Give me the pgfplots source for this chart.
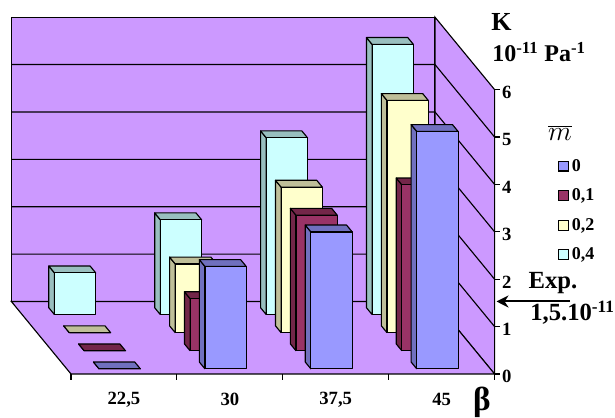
\documentclass[border=0pt]{standalone}
\usepackage{pgfplots}
\pgfplotsset{compat=1.18}
\usetikzlibrary{arrows.meta}
\usepackage{fontspec}
\setmainfont{Liberation Serif}

\definecolor{wall}{HTML}{CC99FF}
\definecolor{cA}{HTML}{9999FF}
\definecolor{cAd}{HTML}{7070BF}
\definecolor{cB}{HTML}{993366}
\definecolor{cBd}{HTML}{732649}
\definecolor{cC}{HTML}{FFFFCC}
\definecolor{cCd}{HTML}{BFBF99}
\definecolor{cD}{HTML}{CCFFFF}
\definecolor{cDd}{HTML}{99BFBF}

% one bar: category, series slot, value, face colour, shaded colour
\newcommand{\onebar}[5]{%
  \pgfmathsetmacro\xa{#1+0.305}%
  \pgfmathsetmacro\xb{#1+0.695}%
  \pgfmathsetmacro\ya{#2+0.28}%
  \pgfmathsetmacro\yb{#2+0.66}%
  \edef\temp{%
    \noexpand\addplot3[fill=#5,draw=black,line width=0.85pt,line join=round,forget plot] coordinates
      {(\xa,\ya,0) (\xa,\yb,0) (\xa,\yb,#3) (\xa,\ya,#3) (\xa,\ya,0)};
    \noexpand\addplot3[fill=#5,draw=black,line width=0.85pt,line join=round,forget plot] coordinates
      {(\xa,\ya,#3) (\xa,\yb,#3) (\xb,\yb,#3) (\xb,\ya,#3) (\xa,\ya,#3)};
    \noexpand\addplot3[fill=#4,draw=black,line width=0.85pt,line join=round,forget plot] coordinates
      {(\xa,\ya,0) (\xa,\ya,#3) (\xb,\ya,#3) (\xb,\ya,0) (\xa,\ya,0)};
  }\temp
}

\begin{document}
\begin{tikzpicture}
\begin{scope}[shift={(-53.25pt,280.5pt)},x=0.75pt,y=-0.75pt]
\useasboundingbox (0,0) rectangle (615,417);
\end{scope}

\begin{axis}[
  at={(0pt,0pt)},
  anchor=origin,
  x={(79.42pt,0pt)},
  y={(-11.17pt,13.58pt)},
  z={(0pt,35.55pt)},
  xmin=0,xmax=4,ymin=0,ymax=4,zmin=0,zmax=6,
  axis lines=none,
  clip=false,
  legend cell align=left,
  legend style={at={(axis cs:4,0,3)},anchor=west,xshift=47.5pt,yshift=16pt,draw=none,fill=none,
    font=\bfseries\fontsize{13.5}{14}\selectfont,inner sep=0pt,
    row sep=7.7pt,
    /tikz/every even column/.append style={column sep=0pt}},
  legend image code/.code={\draw[#1,line width=0.85pt] (0pt,-3.7pt) rectangle (7.5pt,3.7pt);},
]

% walls and floor
\addplot3[fill=wall,draw=black,line width=0.85pt,forget plot] coordinates {(0,4,0) (4,4,0) (4,4,6) (0,4,6) (0,4,0)};
\addplot3[fill=wall,draw=black,line width=0.85pt,forget plot] coordinates {(4,0,0) (4,4,0) (4,4,6) (4,0,6) (4,0,0)};
\addplot3[fill=wall,draw=black,line width=0.85pt,forget plot] coordinates {(0,0,0) (4,0,0) (4,4,0) (0,4,0) (0,0,0)};

% grid on the walls
\pgfplotsinvokeforeach{1,...,5}{
  \addplot3[black,line width=0.85pt,forget plot] coordinates {(0,4,#1) (4,4,#1) (4,0,#1)};
}

% back row to front row
\onebar{0}{3}{0.88}{cD}{cDd}
\onebar{1}{3}{2.00}{cD}{cDd}
\onebar{2}{3}{3.73}{cD}{cDd}
\onebar{3}{3}{5.70}{cD}{cDd}

\onebar{0}{2}{0}{cC}{cCd}
\onebar{1}{2}{1.45}{cC}{cCd}
\onebar{2}{2}{3.07}{cC}{cCd}
\onebar{3}{2}{4.90}{cC}{cCd}

\onebar{0}{1}{0}{cB}{cBd}
\onebar{1}{1}{1.10}{cB}{cBd}
\onebar{2}{1}{2.86}{cB}{cBd}
\onebar{3}{1}{3.50}{cB}{cBd}

\onebar{0}{0}{0}{cA}{cAd}
\onebar{1}{0}{2.16}{cA}{cAd}
\onebar{2}{0}{2.89}{cA}{cAd}
\onebar{3}{0}{5.01}{cA}{cAd}

% x ticks and labels
\pgfplotsinvokeforeach{0,...,4}{
  \draw[black,line width=0.85pt] (axis cs:#1,0,0) -- ++(0pt,-4.5pt);
}
\node[font=\bfseries\fontsize{14}{15}\selectfont] at (axis cs:0.5,0,0) [yshift=-19pt] {22,5};
\node[font=\bfseries\fontsize{14}{15}\selectfont] at (axis cs:1.5,0,0) [yshift=-19pt] {30};
\node[font=\bfseries\fontsize{14}{15}\selectfont] at (axis cs:2.5,0,0) [yshift=-19pt] {37,5};
\node[font=\bfseries\fontsize{14}{15}\selectfont] at (axis cs:3.5,0,0) [yshift=-19pt] {45};

% z ticks and labels
\pgfplotsinvokeforeach{0,...,6}{
  \draw[black,line width=0.85pt] (axis cs:4,0,#1) -- ++(4pt,0pt);
  \node[font=\bfseries\fontsize{14}{15}\selectfont,anchor=west,inner sep=0pt] at (axis cs:4,0,#1) [xshift=5.5pt,yshift=-2pt] {#1};
}

\addlegendimage{fill=cA,draw=black}
\addlegendentry{0}
\addlegendimage{fill=cB,draw=black}
\addlegendentry{0,1}
\addlegendimage{fill=cC,draw=black}
\addlegendentry{0,2}
\addlegendimage{fill=cD,draw=black}
\addlegendentry{0,4}
\end{axis}

\begin{scope}[shift={(-53.25pt,280.5pt)},x=0.75pt,y=-0.75pt]
\node[font=\bfseries\fontsize{19.5}{20}\selectfont,anchor=west,inner sep=0pt] at (491,22) {K};
\node[font=\bfseries\fontsize{18}{20}\selectfont,anchor=west,inner sep=0pt] at (492,52) {10\textsuperscript{-11} Pa\textsuperscript{-1}};
\node[font=\fontsize{21}{22}\selectfont,anchor=center,inner sep=0pt] at (560,133) {$\overline{m}$};
\node[font=\bfseries\fontsize{18.5}{20}\selectfont,anchor=center,inner sep=0pt] at (553,283) {Exp.};
\node[font=\bfseries\fontsize{18.5}{20}\selectfont,anchor=west,inner sep=0pt] at (530,313) {1,5.10\textsuperscript{-11}};
\node[font=\bfseries\fontsize{25}{27}\selectfont,anchor=center,inner sep=0pt] at (482,402) {β};
\draw[line width=1.5pt,-{Stealth[length=9pt,width=9pt]}] (570,301.5) -- (496.5,301.5);
\end{scope}
\end{tikzpicture}
\end{document}
